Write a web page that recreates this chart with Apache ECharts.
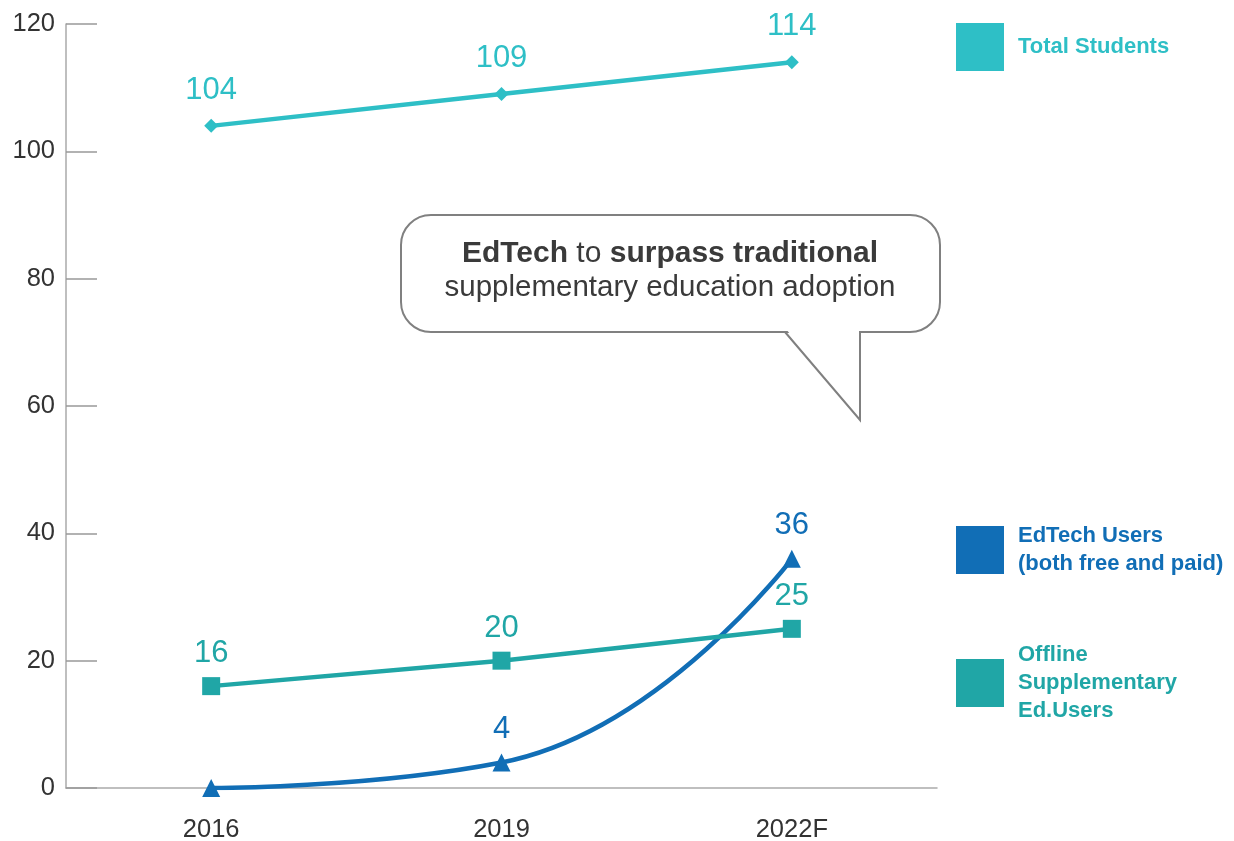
<!DOCTYPE html>
<html>
<head>
<meta charset="utf-8">
<script src="https://cdn.jsdelivr.net/npm/echarts@6/dist/echarts.min.js"></script>
<style>html,body{margin:0;padding:0;background:#fff}#c{width:1234px;height:841px}</style>
</head>
<body>
<div id="c"></div>
<script>
const categories = ['2016', '2019', '2022F'];
const totalStudents = [104, 109, 114];
const edtechUsers = [0, 4, 36];
const offlineUsers = [16, 20, 25];
const yTicks = { min: 0, max: 120, interval: 20 };

const FONT = 'Liberation Sans';
const C_TOTAL = '#2ebfc6';
const C_EDTECH = '#116eb6';
const C_OFFLINE = '#20a6a6';

const N_TOTAL = 'Total Students';
const N_EDTECH = 'EdTech Users\n(both free and paid)';
const N_OFFLINE = 'Offline\nSupplementary\nEd.Users';

const chart = echarts.init(document.getElementById('c'));

function legendAt(name, color, top) {
  return {
    data: [{ name: name, icon: 'rect' }],
    orient: 'vertical',
    left: 956,
    top: top,
    padding: 0,
    itemWidth: 48,
    itemHeight: 48,
    selectedMode: false,
    textStyle: { color: color, fontFamily: FONT, fontSize: 22, fontWeight: 'bold', lineHeight: 28, padding: [0, 0, 0, 9] }
  };
}

function labelCfg(color, dist) {
  return { show: true, position: 'top', distance: dist, color: color, fontFamily: FONT, fontSize: 31 };
}

// the zero point carries no value label in the reference
const edtechData = edtechUsers.map(function (v) {
  return v === 0 ? { value: v, label: { show: false } } : v;
});

chart.setOption({
  animation: false,
  backgroundColor: '#fff',
  grid: { left: 66, right: 297, top: 24, bottom: 53, containLabel: false, outerBoundsMode: 'none' },
  legend: [
    legendAt(N_TOTAL, C_TOTAL, 23),
    legendAt(N_EDTECH, C_EDTECH, 522),
    legendAt(N_OFFLINE, C_OFFLINE, 641)
  ],
  xAxis: {
    type: 'category',
    data: categories,
    boundaryGap: true,
    axisLine: { lineStyle: { color: '#aaaaaa', width: 1.5 } },
    axisTick: { show: false },
    axisLabel: { color: '#333', fontFamily: FONT, fontSize: 25.5, margin: 29 }
  },
  yAxis: {
    type: 'value',
    min: yTicks.min, max: yTicks.max, interval: yTicks.interval,
    splitLine: { show: false },
    axisLine: { show: true, lineStyle: { color: '#aaaaaa', width: 1.5 } },
    axisTick: { show: true, inside: true, length: 31, lineStyle: { color: '#999999', width: 1.5 } },
    axisLabel: { color: '#333', fontFamily: FONT, fontSize: 25.5, margin: 11 }
  },
  series: [
    {
      name: N_TOTAL, type: 'line', data: totalStudents,
      symbol: 'diamond', symbolSize: 14,
      lineStyle: { color: C_TOTAL, width: 4.5 },
      itemStyle: { color: C_TOTAL },
      label: labelCfg(C_TOTAL, 13)
    },
    {
      name: N_EDTECH, type: 'line', data: edtechData,
      smooth: 0.5,
      symbol: 'triangle', symbolSize: 18,
      lineStyle: { color: C_EDTECH, width: 4.5 },
      itemStyle: { color: C_EDTECH },
      label: labelCfg(C_EDTECH, 9)
    },
    {
      name: N_OFFLINE, type: 'line', data: offlineUsers,
      symbol: 'rect', symbolSize: 18,
      lineStyle: { color: C_OFFLINE, width: 4.5 },
      itemStyle: { color: C_OFFLINE },
      label: labelCfg(C_OFFLINE, 8)
    }
  ],
  graphic: [
    {
      type: 'rect',
      shape: { x: 401, y: 215, width: 539, height: 117, r: 30 },
      style: { fill: '#ffffff', stroke: '#808080', lineWidth: 2 },
      z: 10
    },
    {
      type: 'polygon',
      shape: { points: [[786, 329], [859, 329], [859, 418]] },
      style: { fill: '#ffffff', stroke: null },
      z: 11
    },
    {
      type: 'polyline',
      shape: { points: [[785, 332], [860, 420], [860, 332]] },
      style: { fill: null, stroke: '#808080', lineWidth: 2 },
      z: 12
    },
    {
      type: 'text',
      x: 670, y: 254,
      style: {
        text: '{b|EdTech }{n|to }{b|surpass traditional}',
        align: 'center', verticalAlign: 'middle',
        rich: {
          b: { fontFamily: FONT, fontSize: 30, fontWeight: 'bold', fill: '#3a3a3a' },
          n: { fontFamily: FONT, fontSize: 30, fill: '#3a3a3a' }
        }
      },
      z: 13
    },
    {
      type: 'text',
      x: 670, y: 288,
      style: {
        text: 'supplementary education adoption',
        align: 'center', verticalAlign: 'middle',
        fontFamily: FONT, fontSize: 29.5, fill: '#3a3a3a'
      },
      z: 13
    }
  ]
});
</script>
</body>
</html>
